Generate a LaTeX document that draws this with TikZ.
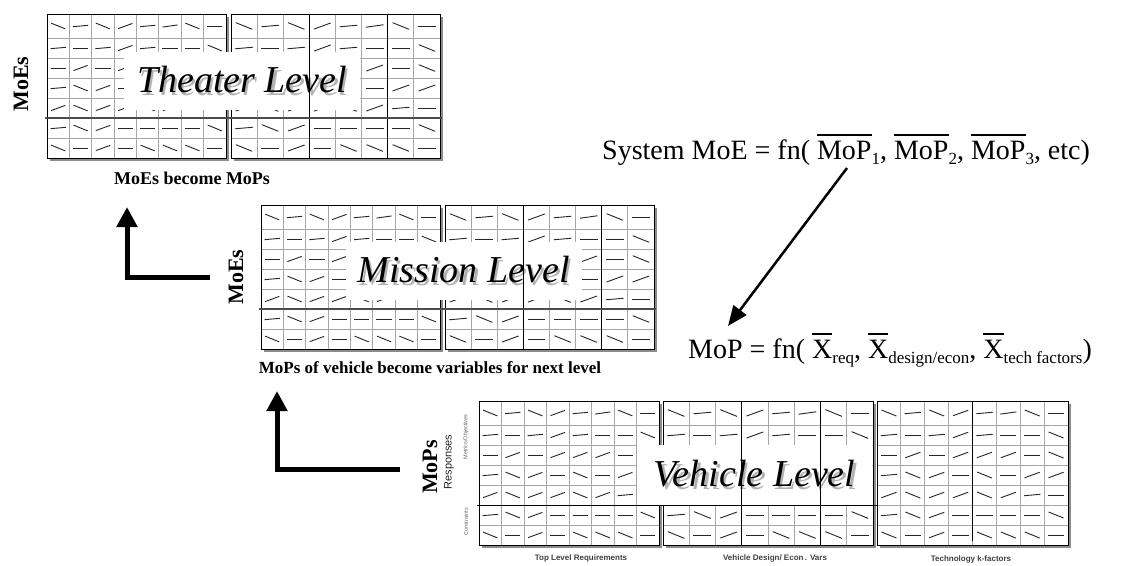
\documentclass[tikz,border=0pt]{standalone}
\usepackage{fontspec}
\setmainfont{Liberation Serif}[BoldFont={Liberation Serif Bold}, ItalicFont={Liberation Serif Italic}]
\setsansfont{Liberation Sans}
\newfontfamily\levelfont{Liberation Serif Italic}
\usetikzlibrary{arrows.meta, positioning}

% angle of the short stroke in each cell, row by row (row centre / 8 angles)
\newcommand{\tickrows}{12/{-22,5,-22,20,5,8,-22,0}, 34/{5,0,5,20,5,0,0,-22},
  54/{0,20,0,20,20,20,0,-22}, 74/{5,-22,20,0,-22,0,20,20},
  94/{20,-22,20,20,-22,20,5,0}, 114/{5,-22,20,0,0,0,0,-22},
  134/{-22,0,20,0,-22,-22,-22,0}}

% one block of 8 x 7 cells: x0, y0, width
\newcommand{\gridblock}[3]{%
  \fill[black!45] ({#1+3},{#2+3}) rectangle ({#1+#3+3},{#2+147});
  \fill[white] (#1,#2) rectangle ({#1+#3},{#2+144});
  \foreach \k in {1,...,7}
    \draw[cellline] ({#1+\k*#3/8},#2) -- ++(0,144);
  \foreach \yy in {24,44,64,84,104,124}
    \draw[cellline] (#1,{#2+\yy}) -- ++(#3,0);
  \foreach \yc/\angs in \tickrows
    \foreach \ang [count=\col] in \angs
      \draw[tick] ({#1+(\col-0.5)*#3/8-0.34*#3/8*cos(\ang)},{#2+\yc+0.34*#3/8*sin(\ang)})
        -- ++({0.68*#3/8*cos(\ang)},{-0.68*#3/8*sin(\ang)});
  \draw[frame] (#1,#2) rectangle ({#1+#3},{#2+144});
}

\newcommand{\shadowtext}[1]{\rlap{\kern2.5pt\raisebox{-2.5pt}{\color{black!30}#1}}#1}
\newcommand{\barred}[1]{\leavevmode\vbox{\hrule height 1.3pt\kern 5pt\hbox{#1}}}
\newcommand{\low}[1]{\raisebox{-5pt}{\fontsize{17}{18}\selectfont #1}}

\begin{document}
\begin{tikzpicture}[x=1pt, y=-1pt, node distance=4pt]
        \tikzstyle{cellline} = [draw=black!35, line width=0.9pt]
        \tikzstyle{tick} = [draw=black!85, line width=0.9pt]
        \tikzstyle{frame} = [draw=black, line width=0.9pt]
        \tikzstyle{levelbox} = [rectangle, fill=white, inner sep=0pt, minimum width=236pt, minimum height=58pt, font=\fontsize{38}{40}\selectfont\levelfont]
        \tikzstyle{axis} = [rotate=90, inner sep=0pt, font=\fontsize{22}{24}\selectfont\bfseries]
        \tikzstyle{caption} = [inner sep=0pt, font=\fontsize{18}{20}\selectfont\bfseries]
        \tikzstyle{colcaption} = [inner sep=0pt, text=black!75, font=\fontsize{8}{9}\selectfont\sffamily\bfseries]
        \tikzstyle{sidenote} = [rotate=90, inner sep=0pt, text=black!60, font=\fontsize{5.5}{6}\selectfont\sffamily]
        \tikzstyle{eqn} = [inner sep=0pt, anchor=base west, font=\fontsize{28}{30}\selectfont]
        \tikzstyle{bigarrow} = [draw, line width=5pt, -{Triangle[length=20pt, width=20pt]}]
        \tikzstyle{line} = [draw, line width=2.5pt, -{Triangle[length=20pt, width=16pt]}]

        \useasboundingbox (0,0) rectangle (1123,565);

        % Theater level
        \gridblock{47}{14}{179}
        \gridblock{231}{14}{209}
        \node [levelbox] (theater) at (242,81) {\shadowtext{Theater Level}};
        \draw [frame] (309.5,14) -- ++(0,144) (387.75,14) -- ++(0,144);
        \draw [draw=black!70, line width=2pt] (45,118) -- (442,118);
        \node [axis] (moes1) at (21,84) {MoEs};
        \node [caption] (cap1) at (192,178) {MoEs become MoPs};

        % Mission level
        \gridblock{261}{205}{179}
        \gridblock{445}{205}{209}
        \node [levelbox] (mission) at (463.5,271) {\shadowtext{Mission Level}};
        \draw [frame] (523.5,205) -- ++(0,144) (601.75,205) -- ++(0,144);
        \draw [draw=black!70, line width=2pt] (259,309) -- (656,309);
        \node [axis] (moes2) at (236,277) {MoEs};
        \node [caption, font=\fontsize{17}{19}\selectfont\bfseries] (cap2) at (430,368) {MoPs of vehicle become variables for next level};

        % Vehicle level
        \gridblock{479}{401}{180}
        \gridblock{663}{401}{210}
        \gridblock{877}{401}{191}
        \node [levelbox, minimum width=235pt, minimum height=60pt] (vehicle) at (754.5,475) {\shadowtext{Vehicle Level}};
        \draw [frame] (741.75,401) -- ++(0,144) (820.5,401) -- ++(0,144) (972.5,401) -- ++(0,140);
        \draw [frame] (477,505) -- (877,505);
        \node [axis] (mops) at (430,467) {MoPs};
        \node [rotate=90, inner sep=0pt, text=black!85, font=\fontsize{11}{12}\selectfont\sffamily] (responses) at (449,462) {Responses};
        \node [sidenote] (metrics) at (466,437) {Metrics/Objectives};
        \node [sidenote] (constraints) at (466,522) {Constraints};
        \node [colcaption] (req) at (581,558) {Top Level Requirements};
        \node [colcaption] (design) at (775,558) {Vehicle Design/ Econ\,. Vars};
        \node [colcaption] (tech) at (971,559) {Technology k-factors};

        % Equations
        \node [eqn] (eqsys) at (602,159) {System MoE = fn( \barred{MoP}\low{1}, \barred{MoP}\low{2}, \barred{MoP}\low{3}, etc)};
        \node [eqn] (eqmop) at (688,358) {MoP = fn( \barred{X}\low{req}, \barred{X}\low{design/econ}, \barred{X}\low{tech factors})};

        % Paths
        \coordinate (up1a) at (210,277);
        \coordinate (up1b) at (127,207);
        \coordinate (up2a) at (400,469);
        \coordinate (up2b) at (277,391);
        \coordinate (eqa) at (847,168);
        \coordinate (eqb) at (728,326);
        \path [bigarrow] (up1a) -| (up1b);
        \path [bigarrow] (up2a) -| (up2b);
        \path [line] (eqa) -- (eqb);
    \end{tikzpicture}
\end{document}
